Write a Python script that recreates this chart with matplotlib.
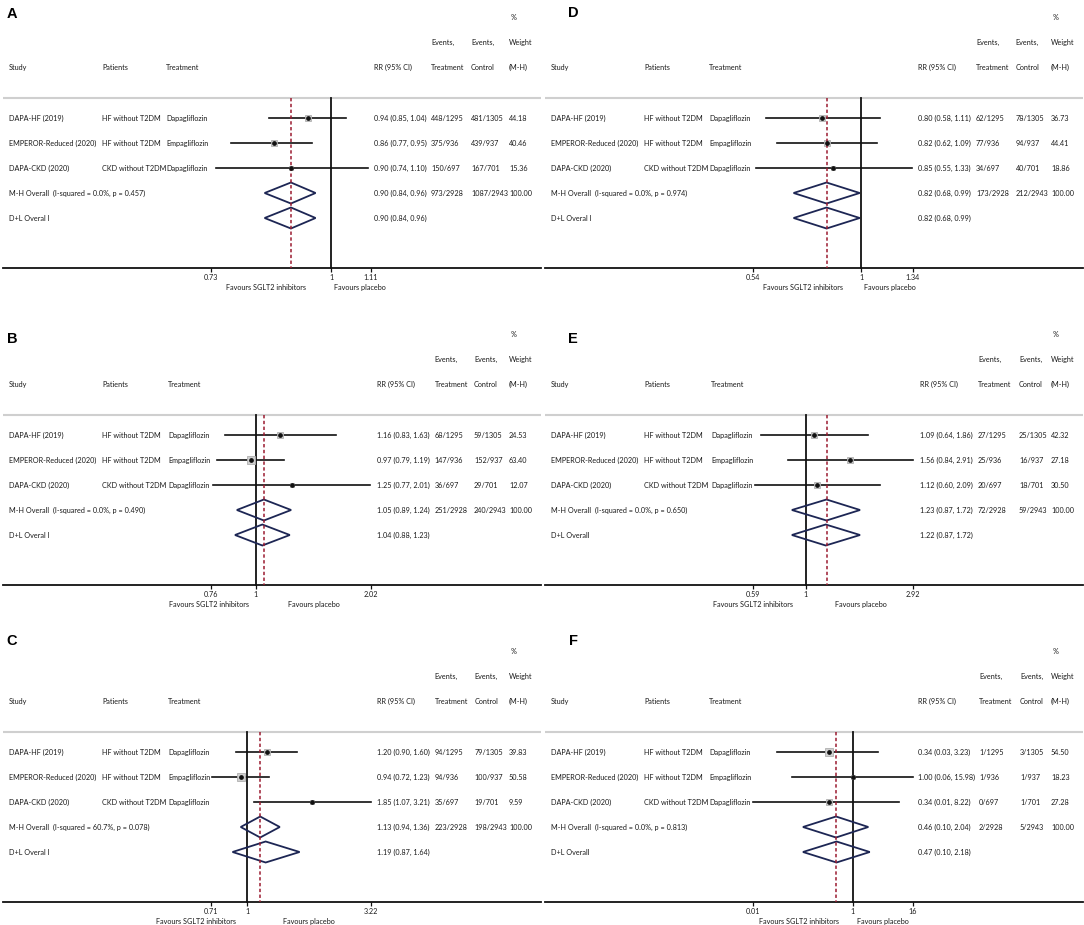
import numpy as np
import matplotlib
matplotlib.use("Agg")
import matplotlib.pyplot as plt
from matplotlib.transforms import blended_transform_factory

# ---------------- data ----------------
panels = ["A", "B", "C", "D", "E", "F"]
studies = ["DAPA-HF (2019)", "EMPEROR-Reduced (2020)", "DAPA-CKD (2020)"]
patients = ["HF without T2DM", "HF without T2DM", "CKD without T2DM"]
treatments = ["Dapagliflozin", "Empagliflozin", "Dapagliflozin"]

rr = {"A": [0.94, 0.86, 0.90], "B": [1.16, 0.97, 1.25], "C": [1.20, 0.94, 1.85],
      "D": [0.80, 0.82, 0.85], "E": [1.09, 1.56, 1.12], "F": [0.34, 1.00, 0.34]}
rr_lo = {"A": [0.85, 0.77, 0.74], "B": [0.83, 0.79, 0.77], "C": [0.90, 0.72, 1.07],
         "D": [0.58, 0.62, 0.55], "E": [0.64, 0.84, 0.60], "F": [0.03, 0.06, 0.01]}
rr_hi = {"A": [1.04, 0.95, 1.10], "B": [1.63, 1.19, 2.01], "C": [1.60, 1.23, 3.21],
         "D": [1.11, 1.09, 1.33], "E": [1.86, 2.91, 2.09], "F": [3.23, 15.98, 8.22]}
ev_trt = {"A": ["448/1295", "375/936", "150/697"], "B": ["68/1295", "147/936", "36/697"],
          "C": ["94/1295", "94/936", "35/697"], "D": ["62/1295", "77/936", "34/697"],
          "E": ["27/1295", "25/936", "20/697"], "F": ["1/1295", "1/936", "0/697"]}
ev_ctl = {"A": ["481/1305", "439/937", "167/701"], "B": ["59/1305", "152/937", "29/701"],
          "C": ["79/1305", "100/937", "19/701"], "D": ["78/1305", "94/937", "40/701"],
          "E": ["25/1305", "16/937", "18/701"], "F": ["3/1305", "1/937", "1/701"]}
weights = {"A": [44.18, 40.46, 15.36], "B": [24.53, 63.40, 12.07], "C": [39.83, 50.58, 9.59],
           "D": [36.73, 44.41, 18.86], "E": [42.32, 27.18, 30.50], "F": [54.50, 18.23, 27.28]}

mh = {"A": [0.90, 0.84, 0.96], "B": [1.05, 0.89, 1.24], "C": [1.13, 0.94, 1.36],
      "D": [0.82, 0.68, 0.99], "E": [1.23, 0.87, 1.72], "F": [0.46, 0.10, 2.04]}
mh_ev_trt = {"A": "973/2928", "B": "251/2928", "C": "223/2928", "D": "173/2928", "E": "72/2928", "F": "2/2928"}
mh_ev_ctl = {"A": "1087/2943", "B": "240/2943", "C": "198/2943", "D": "212/2943", "E": "59/2943", "F": "5/2943"}
i_squared = {"A": "0.0%", "B": "0.0%", "C": "60.7%", "D": "0.0%", "E": "0.0%", "F": "0.0%"}
p_het = {"A": "0.457", "B": "0.490", "C": "0.078", "D": "0.974", "E": "0.650", "F": "0.813"}
dl = {"A": [0.90, 0.84, 0.96], "B": [1.04, 0.88, 1.23], "C": [1.19, 0.87, 1.64],
      "D": [0.82, 0.68, 0.99], "E": [1.22, 0.87, 1.72], "F": [0.47, 0.10, 2.18]}
dl_label = {"A": "D+L Overal l", "B": "D+L Overal l", "C": "D+L Overal l",
            "D": "D+L Overal l", "E": "D+L Overall", "F": "D+L Overall"}
ticks = {"A": [0.73, 1, 1.11], "B": [0.76, 1, 2.02], "C": [0.71, 1, 3.22],
         "D": [0.54, 1, 1.34], "E": [0.59, 1, 2.92], "F": [0.01, 1, 16]}
tick_labels = {"A": ["0.73", "1", "1.11"], "B": ["0.76", "1", "2.02"], "C": ["0.71", "1", "3.22"],
               "D": ["0.54", "1", "1.34"], "E": ["0.59", "1", "2.92"], "F": ["0.01", "1", "16"]}

# ---------------- layout (pixels) ----------------
W, H = 1084, 925
panel_x0 = {"A": 0, "B": 0, "C": 0, "D": 542, "E": 542, "F": 542}
panel_axis_y = {"A": 268, "B": 585, "C": 902, "D": 268, "E": 585, "F": 902}
letter_pos = {"A": (12, 14), "B": (12, 339), "C": (12, 641),
              "D": (573, 13), "E": (573, 339), "F": (573, 641)}
fav_pos = {"A": (266, 360), "B": (209, 314), "C": (196, 309),
           "D": (261, 348), "E": (211, 319), "F": (257, 341)}
# per-panel column x (pixels within the panel): treatment, RR, events trt, events ctl
col_pos = {"A": (166, 374, 431, 471), "B": (168, 377, 434.5, 474), "C": (168, 377, 434.5, 474.5),
           "D": (167, 376, 434, 473.5), "E": (169, 378, 436, 477), "F": (167, 376, 437, 478)}
AX_L, AX_R = 3, 541          # axes span within panel
T_MIN_PX, T_MAX_PX = 211, 371  # where the extreme ticks sit
ROW = 25.0
col_study, col_pat, col_w = 9, 102, 509

FONT = ["Lato", "DejaVu Sans"]
FS = 5.2
TXT = "#1a1a1a"

fig = plt.figure(figsize=(W / 100, H / 100), dpi=100)
fig.patch.set_facecolor("white")

for p in panels:
    x0 = panel_x0[p]
    ya = panel_axis_y[p]
    col_trt, col_rr, col_evt, col_evc = col_pos[p]
    top = ya - 10.5 * ROW
    ax = fig.add_axes([(x0 + AX_L) / W, 1 - ya / H, (AX_R - AX_L) / W, (ya - top) / H])
    ax.set_xscale("log")
    a, b = np.log(ticks[p][0]), np.log(ticks[p][-1])
    s = (b - a) / (T_MAX_PX - T_MIN_PX)
    ax.set_xlim(np.exp(a - (T_MIN_PX - AX_L) * s), np.exp(b + (AX_R - T_MAX_PX) * s))
    ax.set_ylim(7, -3.5)
    ax.set_facecolor("none")
    for sp in ["top", "left", "right"]:
        ax.spines[sp].set_visible(False)
    ax.spines["bottom"].set_linewidth(1.3)
    ax.spines["bottom"].set_color("#111111")
    ax.set_yticks([])
    ax.set_xticks(ticks[p])
    ax.set_xticklabels(tick_labels[p], fontsize=FS, family=FONT, color=TXT)
    ax.xaxis.set_minor_locator(matplotlib.ticker.NullLocator())
    ax.tick_params(axis="x", direction="out", length=3, width=0.9, pad=1.5, color="#111111")

    tr = blended_transform_factory(ax.transAxes, ax.transData)

    def fx(px):
        return (px - AX_L) / (AX_R - AX_L)

    def put(px, y, s_, **kw):
        ax.text(fx(px), y, s_, transform=tr, fontsize=FS, family=FONT, color=TXT,
                ha="left", va="center_baseline", **kw)

    # headers
    put(511, -3.04, "%")
    put(col_evt, -2.04, "Events,")
    put(col_evc, -2.04, "Events,")
    put(col_w, -2.04, "Weight")
    put(col_study, -1.04, "Study")
    put(col_pat, -1.04, "Patients")
    put(col_trt, -1.04, "Treatment")
    put(col_rr, -1.04, "RR (95% CI)")
    put(col_evt, -1.04, "Treatment")
    put(col_evc, -1.04, "Control")
    put(col_w, -1.04, "(M-H)")

    # separator
    ax.axhline(0.2, color="#cfcfcf", lw=1.5, zorder=1)

    # reference line and overall line
    ax.plot([1, 1], [0.2, 7], color="#111111", lw=1.3, zorder=2, clip_on=False)
    ax.plot([mh[p][0]] * 2, [0.2, 7], color="#9b1b30", lw=1.1, ls=(0, (2.2, 1.6)), zorder=5)

    # studies
    for i in range(3):
        y = i + 1
        put(col_study, y, studies[i])
        put(col_pat, y, patients[i])
        put(col_trt, y, treatments[i])
        put(col_rr, y, f"{rr[p][i]:.2f} ({rr_lo[p][i]:.2f}, {rr_hi[p][i]:.2f})")
        put(col_evt, y, ev_trt[p][i])
        put(col_evc, y, ev_ctl[p][i])
        put(col_w, y, f"{weights[p][i]:.2f}")
        ax.plot([rr_lo[p][i], rr_hi[p][i]], [y, y], color="#111111", lw=1.2, zorder=3)
        ax.plot(rr[p][i], y, marker="s", ms=0.75 * np.sqrt(weights[p][i]),
                mfc="#cfcfcf", mec="#b0b0b0", mew=0.6, zorder=4, ls="none")
        ax.plot(rr[p][i], y, marker="o", ms=2.4, color="#111111", zorder=6, ls="none")

    # overall rows
    put(col_study, 4, f"M-H Overall  (I-squared = {i_squared[p]}, p = {p_het[p]})")
    put(col_rr, 4, f"{mh[p][0]:.2f} ({mh[p][1]:.2f}, {mh[p][2]:.2f})")
    put(col_evt, 4, mh_ev_trt[p])
    put(col_evc, 4, mh_ev_ctl[p])
    put(col_w, 4, "100.00")
    put(col_study, 5, dl_label[p])
    put(col_rr, 5, f"{dl[p][0]:.2f} ({dl[p][1]:.2f}, {dl[p][2]:.2f})")
    for y, (e, lo, hi) in [(4, mh[p]), (5, dl[p])]:
        ax.fill([lo, e, hi, e], [y, y - 0.42, y, y + 0.42], facecolor="none",
                edgecolor="#1d2654", lw=1.3, zorder=4)

    # favours labels
    lx, rx = fav_pos[p]
    fig.text((x0 + lx) / W, 1 - (ya + 19.5) / H, "Favours SGLT2 inhibitors", fontsize=FS,
             family=FONT, color=TXT, ha="center", va="center")
    fig.text((x0 + rx) / W, 1 - (ya + 19.5) / H, "Favours placebo", fontsize=FS,
             family=FONT, color=TXT, ha="center", va="center")

    # panel letter
    lxp, lyp = letter_pos[p]
    fig.text(lxp / W, 1 - lyp / H, p, fontsize=10.5, fontweight="bold",
             family=["Liberation Sans", "DejaVu Sans"], color="black", ha="center", va="center")

fig.savefig("out.png", dpi=100, facecolor="white")
